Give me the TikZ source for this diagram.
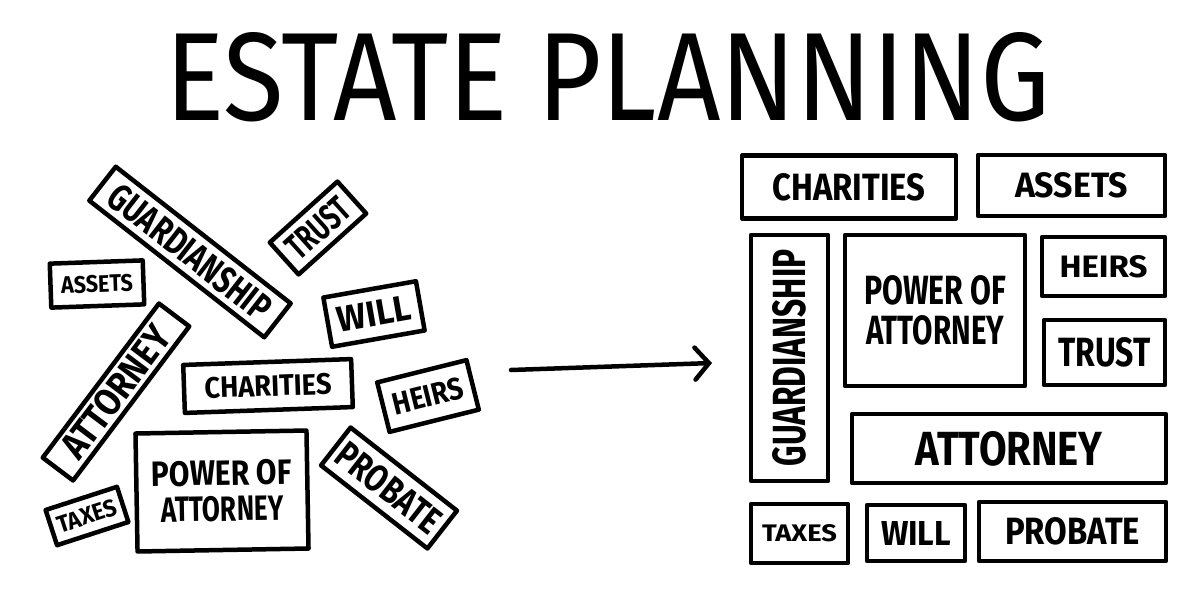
\documentclass[tikz,border=0pt]{standalone}
\usepackage{fontspec}
\usepackage{graphicx}
\setmainfont{Fira Sans}
\usetikzlibrary{arrows.meta}
\newcommand{\fitt}[3]{\resizebox{#1pt}{#2pt}{\bfseries #3}}
\begin{document}
\begin{tikzpicture}[x=1pt,y=-1pt,
  box/.style={draw=black, line width=4.5pt, line join=round, inner sep=0pt, fill=white, align=center},
  arrowline/.style={line width=4.5pt, line cap=round, -{Straight Barb[length=14pt,width=32pt,line cap=round]}}]
\useasboundingbox[fill=white] (0,0) rectangle (1183,590);
% title
\node (title) at (608,77) {\resizebox{885pt}{88pt}{\fontspec{Fira Sans}ESTATE PLANNING}};
% left cluster
\node[box, minimum width=222pt, minimum height=43pt, rotate=-38] (lguard) at (190,252) {\fitt{196}{27}{GUARDIANSHIP}};
\node[box, minimum width=91pt, minimum height=43pt, rotate=42] (ltrust) at (318,228) {\fitt{72}{26}{TRUST}};
\node[box, minimum width=93pt, minimum height=44pt, rotate=2] (lassets) at (97,284) {\fitt{72}{17}{ASSETS}};
\node[box, minimum width=193pt, minimum height=38pt, rotate=53] (lattorney) at (116,392) {\fitt{155}{27}{ATTORNEY}};
\node[box, minimum width=168pt, minimum height=48pt, rotate=2] (lcharities) at (268,386) {\fitt{127}{21}{CHARITIES}};
\node[box, minimum width=94pt, minimum height=50pt, rotate=10] (lwill) at (374,314) {\fitt{74}{25}{WILL}};
\node[box, minimum width=92pt, minimum height=51pt, rotate=14] (lheirs) at (428,396) {\fitt{72}{22}{HEIRS}};
\node[box, minimum width=171pt, minimum height=118pt, rotate=1] (lpower) at (222,491) {\fitt{140}{25}{POWER OF}\\[9pt]\fitt{122}{25}{ATTORNEY}};
\node[box, minimum width=135pt, minimum height=48pt, rotate=-38] (lprobate) at (389,488) {\fitt{122}{27}{PROBATE}};
\node[box, minimum width=75pt, minimum height=37pt, rotate=18] (ltaxes) at (87,516) {\fitt{62}{17}{TAXES}};
% arrow
\coordinate (astart) at (511,370);
\coordinate (aend) at (712,363);
\draw[arrowline] (astart) -- (aend);
% right grid
\node[box, minimum width=214pt, minimum height=63pt] (rcharities) at (849,187) {\fitt{153}{27}{CHARITIES}};
\node[box, minimum width=187pt, minimum height=61pt] (rassets) at (1071.5,185.5) {\fitt{113}{25}{ASSETS}};
\node[box, minimum width=77pt, minimum height=246pt] (rguard) at (789.5,358) {\rotatebox{90}{\fitt{217}{33}{GUARDIANSHIP}}};
\node[box, minimum width=180pt, minimum height=151pt] (rpower) at (935,310.5) {\fitt{142}{29}{POWER OF}\\[9pt]\fitt{138}{29}{ATTORNEY}};
\node[box, minimum width=123pt, minimum height=59pt] (rheirs) at (1103.5,266.5) {\fitt{88}{22}{HEIRS}};
\node[box, minimum width=121pt, minimum height=65pt] (rtrust) at (1104.5,352.5) {\fitt{92}{29}{TRUST}};
\node[box, minimum width=314pt, minimum height=69pt] (rattorney) at (1009,448.5) {\fitt{187}{34}{ATTORNEY}};
\node[box, minimum width=97pt, minimum height=59pt] (rtaxes) at (799.5,533.5) {\fitt{75}{17}{TAXES}};
\node[box, minimum width=98pt, minimum height=56pt] (rwill) at (916,533) {\fitt{70}{24}{WILL}};
\node[box, minimum width=187pt, minimum height=59pt] (rprobate) at (1072.5,531.5) {\fitt{135}{27}{PROBATE}};
\end{tikzpicture}
\end{document}
